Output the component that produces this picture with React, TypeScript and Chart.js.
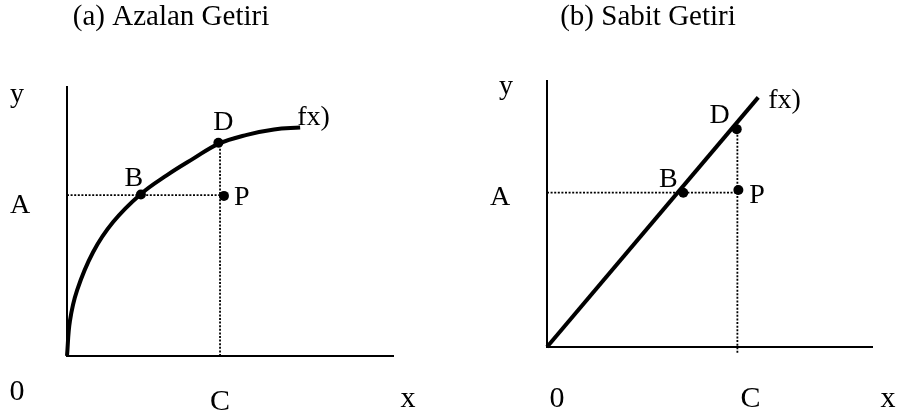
import React, { useEffect, useRef } from "react";
import { Chart, registerables } from "chart.js";

Chart.register(...registerables);

// ---------- Panel (a): Azalan Getiri (decreasing returns) ----------
const titleA = "(a) Azalan Getiri";
const curveAX = [0, 0.09, 0.31, 0.8, 1.41, 2.26, 3.06, 3.85, 4.62, 5.5, 6.33, 7.13];
const curveAY = [0, 1.3, 2.44, 3.85, 4.96, 6.0, 6.7, 7.3, 7.85, 8.19, 8.39, 8.46];
const pointBA = { x: 2.26, y: 5.98 };
const pointDA = { x: 4.63, y: 7.9 };
const pointPA = { x: 4.8, y: 5.93 };
const levelAA = 5.96; // "A" level
const levelCA = 4.68; // "C" level

// ---------- Panel (b): Sabit Getiri (constant returns) ----------
const titleB = "(b) Sabit Getiri";
const lineBX = [0, 6.48];
const lineBY = [0, 9.35];
const pointBB = { x: 4.18, y: 5.78 };
const pointDB = { x: 5.82, y: 8.16 };
const pointPB = { x: 5.87, y: 5.88 };
const levelAB = 5.78;
const levelCB = 5.84;
const vlineBottomB = -0.22;

const axisMax = 10;
const FONT = "'Liberation Serif', 'Times New Roman', serif";

type Label = { text: string; x: number; y: number; dx: number; dy: number; align?: CanvasTextAlign; size?: number };

function textPlugin(labels: Label[], title: { text: string; cx: number; base: number }) {
  return {
    id: "texts",
    afterDraw(chart: any) {
      const ctx = chart.ctx as CanvasRenderingContext2D;
      const xs = chart.scales.x;
      const ys = chart.scales.y;
      ctx.save();
      ctx.fillStyle = "#000";
      ctx.textBaseline = "alphabetic";
      for (const l of labels) {
        ctx.font = `${l.size ?? 28}px ${FONT}`;
        ctx.textAlign = l.align ?? "center";
        ctx.fillText(l.text, xs.getPixelForValue(l.x) + l.dx, ys.getPixelForValue(l.y) + l.dy);
      }
      ctx.font = `29px ${FONT}`;
      ctx.textAlign = "center";
      ctx.fillText(title.text, title.cx, title.base);
      ctx.restore();
    },
  };
}

function buildDatasets(
  curve: { x: number; y: number }[],
  smooth: boolean,
  hline: { x: number; y: number }[],
  vline: { x: number; y: number }[],
  pts: { x: number; y: number }[]
) {
  return [
    {
      data: pts,
      showLine: false,
      pointRadius: 5,
      pointBackgroundColor: "#000",
      pointBorderWidth: 0,
      clip: false as any,
    },
    {
      data: curve,
      showLine: true,
      borderColor: "#000",
      borderWidth: 4,
      pointRadius: 0,
      tension: smooth ? 0.4 : 0,
      clip: false as any,
    },
    {
      data: [
        { x: 0, y: axisMax },
        { x: 0, y: 0 },
        { x: axisMax, y: 0 },
      ],
      showLine: true,
      borderColor: "#000",
      borderWidth: 2,
      pointRadius: 0,
      clip: false as any,
    },
    {
      data: hline,
      showLine: true,
      borderColor: "#000",
      borderWidth: 1.8,
      borderDash: [2, 1.6],
      pointRadius: 0,
      clip: false as any,
    },
    {
      data: vline,
      showLine: true,
      borderColor: "#000",
      borderWidth: 1.8,
      borderDash: [2, 1.6],
      pointRadius: 0,
      clip: false as any,
    },
  ];
}

function makeChart(
  canvas: HTMLCanvasElement,
  datasets: any[],
  padding: { left: number; right: number; top: number; bottom: number },
  plugin: any
) {
  return new Chart(canvas, {
    type: "scatter",
    data: { datasets },
    options: {
      responsive: false,
      animation: false,
      events: [],
      layout: { padding },
      plugins: { legend: { display: false }, tooltip: { enabled: false }, title: { display: false } },
      scales: {
        x: { type: "linear", min: 0, max: axisMax, display: false },
        y: { type: "linear", min: 0, max: axisMax, display: false },
      },
    },
    plugins: [plugin],
  });
}

export default function App() {
  const leftRef = useRef<HTMLCanvasElement>(null);
  const rightRef = useRef<HTMLCanvasElement>(null);

  useEffect(() => {
    const curveA = curveAX.map((x, i) => ({ x, y: curveAY[i] }));
    const dsA = buildDatasets(
      curveA,
      true,
      [
        { x: 0, y: levelAA },
        { x: levelCA, y: levelAA },
      ],
      [
        { x: levelCA, y: 0 },
        { x: levelCA, y: pointDA.y },
      ],
      [pointBA, pointDA, pointPA]
    );
    const lastA = curveA[curveA.length - 1];
    const labelsA: Label[] = [
      { text: "y", x: 0, y: axisMax, dx: -50, dy: 16 },
      { text: "A", x: 0, y: levelAA, dx: -47, dy: 18 },
      { text: "0", x: 0, y: 0, dx: -50, dy: 44, size: 30 },
      { text: "C", x: levelCA, y: 0, dx: 0, dy: 54, size: 30 },
      { text: "x", x: axisMax, y: 0, dx: 14, dy: 51, size: 30 },
      { text: "B", x: pointBA.x, y: pointBA.y, dx: -7, dy: -9 },
      { text: "D", x: pointDA.x, y: pointDA.y, dx: 5, dy: -13 },
      { text: "P", x: pointPA.x, y: pointPA.y, dx: 10, dy: 9, align: "left" },
      { text: "fx)", x: lastA.x, y: lastA.y, dx: -3, dy: -3, align: "left" },
    ];
    const chartA = makeChart(
      leftRef.current!,
      dsA,
      { left: 67, right: 56, top: 86, bottom: 60 },
      textPlugin(labelsA, { text: titleA, cx: 171, base: 25 })
    );

    const lineB = lineBX.map((x, i) => ({ x, y: lineBY[i] }));
    const dsB = buildDatasets(
      lineB,
      false,
      [
        { x: 0, y: levelAB },
        { x: levelCB, y: levelAB },
      ],
      [
        { x: levelCB, y: vlineBottomB },
        { x: levelCB, y: pointDB.y },
      ],
      [pointBB, pointDB, pointPB]
    );
    const lastB = lineB[lineB.length - 1];
    const labelsB: Label[] = [
      { text: "y", x: 0, y: axisMax, dx: -41, dy: 14 },
      { text: "A", x: 0, y: levelAB, dx: -47, dy: 12 },
      { text: "0", x: 0, y: 0, dx: 10, dy: 60, size: 30 },
      { text: "C", x: levelCB, y: 0, dx: 13, dy: 60, size: 30 },
      { text: "x", x: axisMax, y: 0, dx: 15, dy: 60, size: 30 },
      { text: "B", x: pointBB.x, y: pointBB.y, dx: -15, dy: -6 },
      { text: "D", x: pointDB.x, y: pointDB.y, dx: -17, dy: -6 },
      { text: "P", x: pointPB.x, y: pointPB.y, dx: 11, dy: 13, align: "left" },
      { text: "fx)", x: lastB.x, y: lastB.y, dx: 10, dy: 11, align: "left" },
    ];
    const chartB = makeChart(
      rightRef.current!,
      dsB,
      { left: 97, right: 28, top: 80, bottom: 69 },
      textPlugin(labelsB, { text: titleB, cx: 198, base: 25 })
    );

    return () => {
      chartA.destroy();
      chartB.destroy();
    };
  }, []);

  return (
    <div style={{ position: "absolute", left: 0, top: 0, width: 901, height: 416, background: "#fff" }}>
      <canvas ref={leftRef} width={450} height={416} style={{ position: "absolute", left: 0, top: 0, width: 450, height: 416 }} />
      <canvas ref={rightRef} width={451} height={416} style={{ position: "absolute", left: 450, top: 0, width: 451, height: 416 }} />
    </div>
  );
}
